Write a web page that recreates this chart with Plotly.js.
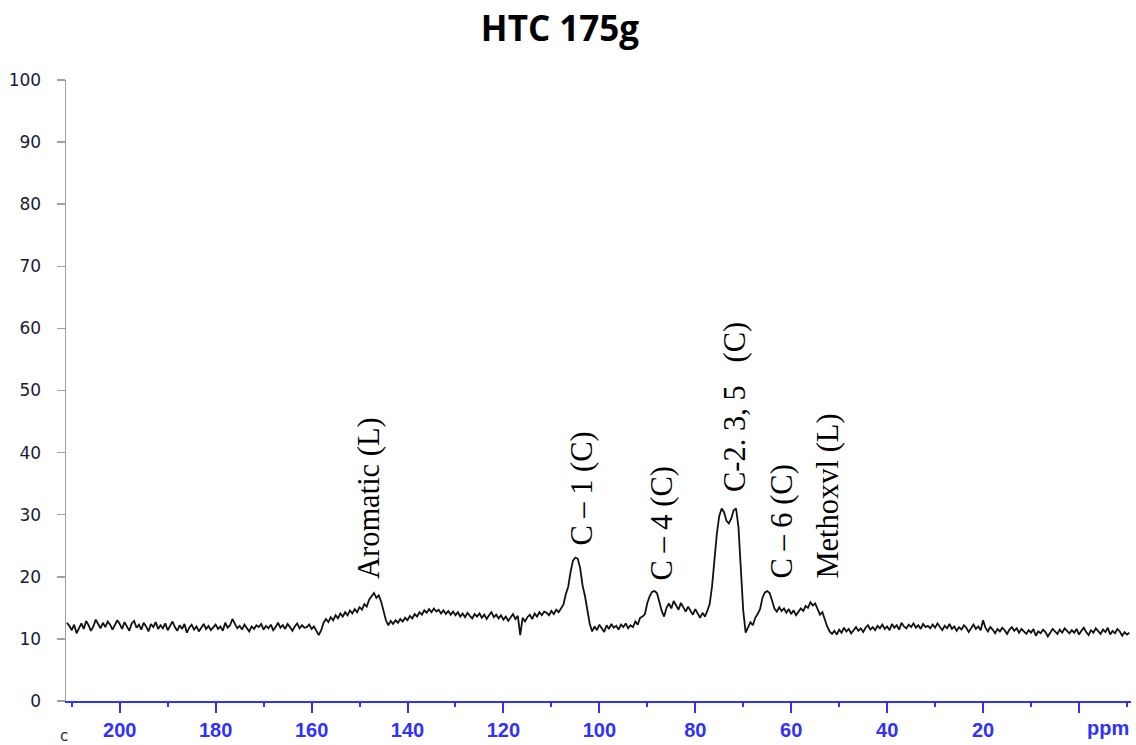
<!DOCTYPE html>
<html>
<head>
<meta charset="utf-8">
<script src="https://cdn.plot.ly/plotly-3.0.1.min.js"></script>
<style>html,body{margin:0;padding:0;background:#fff;}#chart{width:1136px;height:745px;}</style>
</head>
<body>
<div id="chart"></div>
<script>
// Spectrum sampled every 0.5 ppm starting at 211 ppm going down
var ppmStart = 211;
var ppmStep = -0.5;
var intensity = [
  // 211 .. 201.5
  12.6, 12.1, 11.4, 12.3, 10.9, 11.8, 12.5, 11.6, 12.9, 12.2, 11.3, 12.0, 13.1, 12.4, 11.7, 12.6, 11.9, 12.8, 12.3, 11.5,
  // 201 .. 191.5
  12.2, 13.0, 12.4, 11.6, 12.7, 12.1, 11.3, 12.5, 12.9, 11.8, 12.3, 11.5, 12.6, 12.0, 11.2, 12.4, 11.9, 12.7, 11.6, 12.2,
  // 191 .. 181.5
  11.7, 12.5, 11.4, 12.1, 12.8, 11.9, 11.3, 12.2, 11.6, 12.4, 11.0, 11.8, 12.3, 11.5, 12.0, 11.2, 11.9, 12.4, 11.6, 12.1,
  // 181 .. 171.5
  11.4, 11.9, 12.3, 11.6, 12.0, 11.3, 12.6, 11.8, 12.2, 13.2, 12.4, 11.7, 12.1, 11.5, 12.3, 11.8, 11.2, 12.0, 11.6, 12.2,
  // 171 .. 161.5
  11.9, 12.4, 11.5, 12.1, 11.7, 12.3, 11.4, 11.9, 12.6, 11.8, 12.2, 11.6, 12.4, 11.9, 11.3, 12.0, 12.5, 11.7, 12.2, 11.8,
  // 161 .. 151.5
  11.9, 12.3, 11.6, 12.0, 11.2, 10.6, 11.4, 12.6, 13.2, 12.7, 13.5, 13.0, 13.8, 13.3, 14.1, 13.6, 14.3, 13.8, 14.6, 14.1,
  // 151 .. 141.5  (aromatic)
  14.8, 14.3, 15.1, 14.7, 15.6, 15.2, 16.3, 16.9, 17.4, 16.6, 17.0, 16.0, 14.6, 13.0, 12.2, 12.9, 12.4, 13.0, 12.6, 13.2,
  // 141 .. 131.5
  12.8, 13.4, 13.0, 13.7, 13.3, 14.0, 13.6, 14.3, 13.9, 14.6, 14.2, 14.8, 14.3, 14.9, 14.4, 14.7, 14.1, 14.6, 14.0, 14.5,
  // 131 .. 121.5
  13.9, 14.4, 13.8, 14.3, 13.6, 14.1, 13.5, 14.2, 13.7, 13.3, 14.0, 13.6, 14.1, 13.4, 13.9, 13.2, 13.8, 14.3, 13.5, 13.9,
  // 121 .. 111.5
  13.3, 13.8, 13.1, 13.6, 12.9, 13.5, 14.0, 13.2, 13.7, 10.6, 13.4, 12.8, 13.5, 13.9, 13.2, 14.1, 13.6, 14.3, 13.8, 14.4,
  // 111 .. 101.5  (C-1)
  14.2, 13.8, 14.5, 14.0, 14.7, 14.3, 14.9, 15.5, 17.2, 18.4, 20.8, 22.6, 23.1, 22.9, 21.4, 18.6, 16.9, 14.7, 12.4, 11.2,
  // 101 .. 91.5
  12.0, 11.4, 12.3, 11.7, 11.1, 12.2, 11.6, 12.4, 11.8, 12.1, 11.5, 12.3, 11.9, 12.5, 11.7, 12.2, 11.9, 12.8, 12.3, 13.4,
  // 91 .. 81.5  (C-4)
  13.6, 14.0, 15.8, 16.9, 17.6, 17.7, 17.4, 16.0, 14.5, 13.6, 15.0, 15.7, 14.9, 16.1, 15.4, 14.7, 15.8, 15.1, 14.4, 15.2,
  // 81 .. 71.5  (C-2,3,5)
  14.6, 13.9, 14.8, 14.1, 13.4, 14.2, 13.6, 14.5, 15.6, 18.5, 22.8, 27.0, 29.8, 31.0, 30.4, 29.0, 28.6, 29.4, 30.7, 31.0,
  // 71 .. 61.5  (C-6)
  28.0, 21.5, 14.5, 11.0, 11.8, 12.7, 12.2, 13.4, 14.0, 14.8, 16.6, 17.5, 17.7, 17.4, 16.2, 14.9, 14.4, 15.1, 14.5, 14.9,
  // 61 .. 51.5  (methoxyl)
  14.2, 14.8, 14.0, 14.6, 13.8, 14.4, 14.9, 14.5, 15.3, 15.0, 15.9, 15.4, 15.7, 14.8, 13.9, 14.3, 13.1, 12.0, 11.2, 10.8,
  // 51 .. 41.5
  11.3, 10.7, 11.5, 11.0, 11.8, 11.2, 11.6, 10.9, 11.4, 11.9, 11.3, 11.7, 11.1, 11.8, 12.2, 11.5, 11.9, 11.4, 12.1, 11.7,
  // 41 .. 31.5
  12.3, 11.6, 12.0, 11.4, 12.4, 11.8, 12.2, 11.5, 12.6, 12.0, 11.7, 12.3, 11.9, 12.5, 11.8, 12.2, 11.6, 12.4, 11.9, 12.1,
  // 31 .. 21.5
  11.7, 12.3, 11.8, 12.5, 11.9, 11.4, 12.1, 11.7, 12.4, 11.6, 12.0, 11.3, 11.9, 11.5, 12.2, 11.8, 11.1, 11.7, 12.3, 11.6,
  // 21 .. 11.5
  12.0, 11.4, 13.0, 11.8, 11.2, 11.9, 11.5, 10.9, 11.6, 11.2, 11.8, 11.4, 10.8, 11.5, 11.9, 11.3, 11.7, 11.0, 11.6, 11.2,
  // 11 .. 1.5
  10.8, 11.4, 11.0, 11.6, 10.5, 11.2, 10.9, 11.5, 11.1, 10.4, 11.0, 11.6, 11.2, 10.8, 11.5, 11.0, 11.7, 11.3, 10.9, 11.4,
  // 1 .. -8.5
  11.0, 11.6, 10.7, 11.3, 11.8, 11.1, 10.6, 11.4, 11.0, 11.7, 11.2, 10.8, 11.5, 11.1, 11.8, 10.7, 11.3, 10.9, 11.6, 11.2,
  // -9 .. -10.5
  10.5, 11.1, 10.7, 11.0
];

var xTickVals = [200, 180, 160, 140, 120, 100, 80, 60, 40, 20, 0];
var xTickText = ['200', '180', '160', '140', '120', '100', '80', '60', '40', '20', ''];
var xMinorVals = [210, 190, 170, 150, 130, 110, 90, 70, 50, 30, 10, -10];
var yTickVals = [0, 10, 20, 30, 40, 50, 60, 70, 80, 90, 100];

var peakLabels = ['Aromatic (L)', 'C \u2013 1 (C)', 'C \u2013 4 (C)', 'C-2. 3, 5   (C)', 'C \u2013 6 (C)', 'Methoxvl (L)'];
var peakPpm = [148.0, 103.7, 87.0, 71.7, 62.0, 52.3];
var peakLabelBase = [19.5, 24.8, 19.2, 33.5, 19.5, 19.5];

var blue = '#3030ff';

// plot area in pixels
var W = 1136, H = 745, ML = 66, MR = 5, MT = 80, MB = 44;
function px2paperX(px) { return (px - ML) / (W - ML - MR); }
function px2paperY(py) { return (H - MB - py) / (H - MT - MB); }

var annotations = peakLabels.map(function (t, i) {
  return {
    text: t, x: peakPpm[i], y: peakLabelBase[i], xref: 'x', yref: 'y',
    xanchor: 'center', yanchor: 'bottom', textangle: -90, showarrow: false,
    borderpad: 0,
    font: {family: 'Liberation Serif, Times New Roman, serif', size: 30.5, color: '#000'}
  };
});
annotations.push({
  text: 'ppm', x: px2paperX(1108), y: px2paperY(728), xref: 'paper', yref: 'paper',
  xanchor: 'center', yanchor: 'middle', showarrow: false,
  font: {family: 'Liberation Sans, Arial, sans-serif', size: 20, color: blue, weight: 'bold'}
});
annotations.push({
  text: 'c', x: px2paperX(64), y: px2paperY(736), xref: 'paper', yref: 'paper',
  xanchor: 'center', yanchor: 'middle', showarrow: false,
  font: {family: 'DejaVu Sans, Verdana, sans-serif', size: 15, color: '#2a2a30'}
});

var trace = {
  type: 'scatter', mode: 'lines',
  x0: ppmStart, dx: ppmStep, y: intensity,
  line: {color: '#111', width: 1.8},
  hoverinfo: 'skip'
};

var layout = {
  width: W, height: H,
  margin: {l: ML, r: MR, t: MT, b: MB},
  paper_bgcolor: '#fff', plot_bgcolor: '#fff',
  showlegend: false,
  title: {
    text: '<b>HTC 175g</b>', x: 560 / W, xanchor: 'center', xref: 'container',
    y: 1 - 29 / H, yanchor: 'middle', yref: 'container',
    font: {family: 'Open Sans, sans-serif', size: 35, color: '#000'}
  },
  xaxis: {
    range: [211.2, -10.84], autorange: false,
    tickmode: 'array', tickvals: xTickVals, ticktext: xTickText,
    showgrid: false, zeroline: false,
    showline: true, linecolor: blue, linewidth: 2,
    ticks: 'outside', ticklen: 10, tickwidth: 2, tickcolor: blue,
    ticklabelstandoff: 0,
    tickfont: {family: 'Liberation Sans, Arial, sans-serif', size: 20, color: blue, weight: 'bold'},
    minor: {tickmode: 'array', tickvals: xMinorVals, ticks: 'outside', ticklen: 4, tickwidth: 2, tickcolor: blue, showgrid: false}
  },
  yaxis: {
    range: [0, 100], autorange: false,
    tickmode: 'array', tickvals: yTickVals,
    showgrid: false, zeroline: false,
    showline: true, linecolor: '#a0a0a0', linewidth: 1.5,
    ticks: 'outside', ticklen: 8, tickwidth: 1.5, tickcolor: '#a0a0a0',
    ticklabelstandoff: 12,
    tickfont: {family: 'DejaVu Sans, Verdana, sans-serif', size: 17, color: '#1a1a38'}
  },
  annotations: annotations
};

Plotly.newPlot('chart', [trace], layout, {displayModeBar: false, staticPlot: true});
</script>
</body>
</html>
